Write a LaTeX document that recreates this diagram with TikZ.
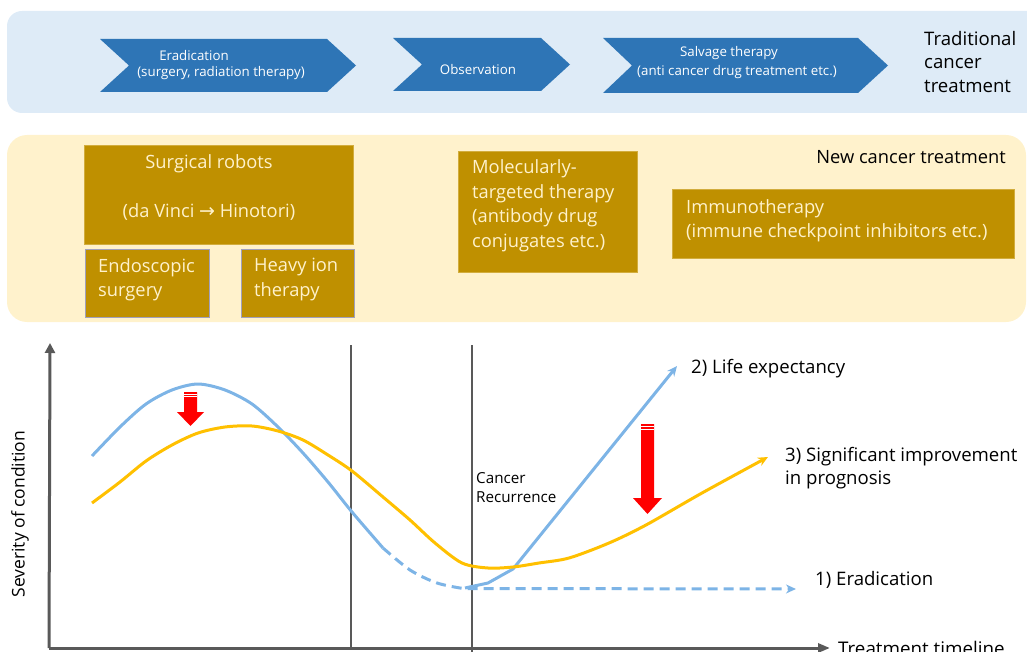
\documentclass[tikz,border=0pt]{standalone}
\usepackage{fontspec}
\setmainfont{Open Sans}
\newfontfamily\arrowfont{DejaVu Sans}
\usetikzlibrary{arrows.meta}

\definecolor{bandblue}{RGB}{222,235,247}
\definecolor{bandyellow}{RGB}{255,242,204}
\definecolor{chevblue}{RGB}{46,117,182}
\definecolor{boxgold}{RGB}{191,144,0}
\definecolor{boxtext}{RGB}{255,242,204}
\definecolor{boxframe}{RGB}{160,160,190}
\definecolor{curveblue}{RGB}{125,180,230}
\definecolor{curveorange}{RGB}{255,192,0}
\definecolor{axisgray}{RGB}{89,89,89}

\tikzset{
  chevron/.style={fill=chevblue},
  chevtext/.style={text=white, font=\fontsize{13.3}{16}\selectfont, inner sep=0pt},
  bandtitle/.style={text=black, font=\fontsize{18.6}{23.5}\selectfont, align=left, inner sep=0pt},
  goldbox/.style={fill=boxgold, draw=boxgold!70!boxtext, line width=0.6pt, inner sep=0pt},
  framedbox/.style={fill=boxgold, draw=boxframe, line width=0.8pt, inner sep=0pt},
  boxlabel/.style={text=boxtext, font=\fontsize{18.3}{24.5}\selectfont, align=left, inner sep=0pt},
  axisline/.style={draw=axisgray, line width=3pt},
  phaseline/.style={draw=axisgray, line width=2pt},
  bluecurve/.style={draw=curveblue, line width=3pt, line join=round},
  orangecurve/.style={draw=curveorange, line width=3pt, line join=round},
  curvetip/.style={-{Stealth[length=10pt,width=9pt]}},
  graphlabel/.style={text=black, font=\fontsize{18.6}{23}\selectfont, align=left, inner sep=0pt},
  smalllabel/.style={text=black, font=\fontsize{15.2}{19}\selectfont, align=left, inner sep=0pt},
  redarrow/.style={fill=red},
  stripe/.style={draw=white, line width=0.7pt}
}

\begin{document}
\begin{tikzpicture}[x=1pt,y=-1pt]
\useasboundingbox (0,0) rectangle (1027,652);

% ---------- traditional treatment band ----------
\fill[bandblue, rounded corners=15pt] (7,11) rectangle (1045,113);

\fill[chevron] (100,39) -- (327,39) -- (356,65.5) -- (327,92) -- (100,92) -- (129,65.5) -- cycle;
\fill[chevron] (393,38) -- (541,38) -- (570,64.5) -- (541,91) -- (393,91) -- (422,64.5) -- cycle;
\fill[chevron] (603,38) -- (858,38) -- (888,65.5) -- (858,93) -- (603,93) -- (632,65.5) -- cycle;

\node[chevtext] (erad1) at (194,56) {Eradication};
\node[chevtext] (erad2) at (221,73) {(surgery, radiation therapy)};
\node[chevtext] (obs) at (478,70) {Observation};
\node[chevtext] (salv1) at (729,53) {Salvage therapy};
\node[chevtext] (salv2) at (737,72) {(anti cancer drug treatment etc.)};

\node[bandtitle, anchor=west] (trad) at (924,62) {Traditional\\cancer\\treatment};

% ---------- new treatment band ----------
\fill[bandyellow, rounded corners=20pt] (7,135) rectangle (1026,322);
\node[text=black, font=\fontsize{18.3}{20}\selectfont, inner sep=0pt, anchor=east] (newtitle) at (1006,157) {New cancer treatment};

\node[goldbox, minimum width=269pt, minimum height=99pt] (robots) at (218.5,194.5) {};
\node[boxlabel, align=center] (robotstext) at (209,187.5)
  {Surgical robots\\ \\(da Vinci {\arrowfont\fontsize{19}{24.5}\selectfont →} Hinotori)};

\node[framedbox, minimum width=124pt, minimum height=68pt] (endo) at (147,283) {};
\node[boxlabel, anchor=west] (endotext) at (98,279.5) {Endoscopic\\surgery};

\node[framedbox, minimum width=113pt, minimum height=68pt] (heavy) at (297.5,283) {};
\node[boxlabel, anchor=west] (heavytext) at (254,279.5) {Heavy ion\\therapy};

\node[goldbox, minimum width=179pt, minimum height=121pt] (mol) at (547.5,211.5) {};
\node[boxlabel, anchor=west] (moltext) at (472,205.5)
  {Molecularly-\\targeted therapy\\(antibody drug\\conjugates etc.)};

\node[goldbox, minimum width=342pt, minimum height=69pt] (immuno) at (843,223.5) {};
\node[boxlabel, anchor=west] (immunotext) at (686,220.5)
  {Immunotherapy\\(immune checkpoint inhibitors etc.)};

% ---------- graph ----------
\coordinate (origin) at (49,648);
\coordinate (ytop) at (50,343);
\coordinate (xend) at (830,648);
\draw[axisline, -{Triangle[length=10pt,width=10pt]}] (origin) -- (ytop);
\draw[axisline, -{Triangle[length=12pt,width=9pt]}] (origin) -- (xend);

\coordinate (phaseAtop) at (351,345);
\coordinate (phaseAbot) at (351,648);
\coordinate (phaseBtop) at (472,345);
\coordinate (phaseBbot) at (472,654);
\draw[phaseline] (phaseAtop) -- (phaseAbot);
\draw[phaseline] (phaseBtop) -- (phaseBbot);

\node[text=black, font=\fontsize{17.5}{20}\selectfont, inner sep=0pt, rotate=90] (ylabel) at (20,514) {Severity of condition};
\node[text=black, font=\fontsize{18.8}{20}\selectfont, inner sep=0pt, anchor=base west] (xlabel) at (838,655) {Treatment timeline};

\node[smalllabel, anchor=west] (recur) at (476,487.5) {Cancer\\Recurrence};

% standard course: treatment then remission
\draw[bluecurve] plot[smooth, tension=0.5] coordinates
  {(92,456) (120,427) (146,404) (172,390) (198,384) (225,390) (252,404) (278,427) (303,453) (328,482) (352,512) (383,548)};
\coordinate (eradEnd) at (796,589);
\draw[bluecurve, dash pattern=on 10pt off 6pt, curvetip] plot[smooth, tension=0.5] coordinates
  {(383,548) (410,570) (437,583) (463,588.5)} -- (eradEnd);

% relapse with life expectancy course
\coordinate (lifeEnd) at (677,366);
\draw[bluecurve, curvetip] (465,588) -- (488,583) -- (513,569) -- (lifeEnd);

% improved course with new treatment
\draw[orangecurve, curvetip] plot[smooth, tension=0.5] coordinates
  {(92,503) (120,482) (146,461) (172,445) (198,433) (225,427) (252,426) (278,431) (303,440) (328,455) (352,471) (383,497) (410,520) (435,543) (462,563) (488,568) (513,567) (539,563) (569,558) (609,543) (646,525) (702,493) (768,457)};

\node[graphlabel, anchor=west] (lifelabel) at (691,369) {2) Life expectancy};
\node[graphlabel, anchor=west] (progLabel) at (785,468.5) {3) Significant improvement\\in prognosis};
\node[graphlabel, anchor=west] (eradlabel) at (815,580) {1) Eradication};

% red reduction arrows
\fill[redarrow] (184,392) -- (197,392) -- (197,412) -- (204,412) -- (190.5,426) -- (177,412) -- (184,412) -- cycle;
\draw[stripe] (184,394.3) -- (197,394.3);
\draw[stripe] (184,396.8) -- (197,396.8);

\fill[redarrow] (641,424) -- (654,424) -- (654,498) -- (662,498) -- (647.5,514) -- (633,498) -- (641,498) -- cycle;
\draw[stripe] (641,426.5) -- (654,426.5);
\draw[stripe] (641,429) -- (654,429);

\end{tikzpicture}
\end{document}
